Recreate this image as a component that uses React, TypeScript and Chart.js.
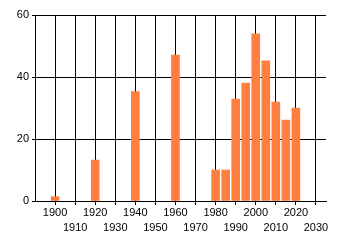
import React, { useEffect, useRef } from "react";
import { Chart, registerables } from "chart.js";

Chart.register(...registerables);

const years = [1900, 1920, 1940, 1960, 1980, 1985, 1990, 1995, 2000, 2005, 2010, 2015, 2020];
const counts = [1.4, 13.2, 35.3, 47.1, 10, 10, 32.9, 38, 53.9, 45.2, 31.9, 26.1, 30];
const xTicks = [1900, 1910, 1920, 1930, 1940, 1950, 1960, 1970, 1980, 1990, 2000, 2010, 2020, 2030];
const yTicks = [0, 20, 40, 60];

export default function App() {
  const ref = useRef<HTMLCanvasElement | null>(null);
  useEffect(() => {
    document.body.style.margin = "0";
    const ctx = ref.current!;
    const font = { family: "'Liberation Sans', Arial, sans-serif", size: 11, lineHeight: 1.4 };
    const chart = new Chart(ctx, {
      type: "bar",
      data: {
        datasets: [
          {
            data: years.map((y, i) => ({ x: y, y: counts[i] })),
            backgroundColor: "#FF7F40",
            borderWidth: 0,
            barThickness: 8,
          },
        ],
      },
      options: {
        animation: false,
        responsive: false,
        maintainAspectRatio: false,
        layout: { padding: { left: 0, right: 14, top: 15, bottom: 0 } },
        plugins: { legend: { display: false }, tooltip: { enabled: false } },
        scales: {
          x: {
            type: "linear",
            min: 1890,
            max: 2035,
            offset: false,
            afterBuildTicks: (s: any) => {
              s.ticks = xTicks.map((v) => ({ value: v }));
            },
            afterFit: (s: any) => {
              s.height = 44;
            },
            grid: { color: "#000", lineWidth: 1, tickLength: 4, drawTicks: true, offset: false },
            border: { color: "#000" },
            ticks: {
              color: "#000",
              font,
              padding: 0,
              maxRotation: 0,
              autoSkip: false,
              callback: (v: any) => {
                const n = Number(v);
                const idx = xTicks.indexOf(n);
                return idx % 2 === 1 ? ["", String(n)] : String(n);
              },
            },
          },
          y: {
            min: 0,
            max: 60,
            afterBuildTicks: (s: any) => {
              s.ticks = yTicks.map((v) => ({ value: v }));
            },
            afterFit: (s: any) => {
              s.width = 35;
            },
            grid: { color: "#000", lineWidth: 1, tickLength: 3 },
            border: { color: "#000" },
            ticks: { color: "#000", font, padding: 3 },
          },
        },
      },
    });
    return () => chart.destroy();
  }, []);
  return (
    <div style={{ width: 340, height: 245 }}>
      <canvas ref={ref} width={340} height={245} style={{ display: "block" }} />
    </div>
  );
}
